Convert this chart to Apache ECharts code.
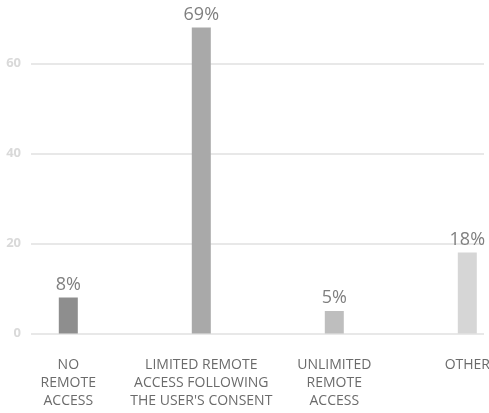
<!DOCTYPE html>
<html><head><meta charset="utf-8">
<script src="https://cdn.jsdelivr.net/npm/echarts@6/dist/echarts.min.js"></script>
<style>html,body{margin:0;padding:0;background:#fff}#c{width:489px;height:413px}</style>
</head><body><div id="c"></div>
<script>
const categories = ["NO\nREMOTE\nACCESS", "LIMITED REMOTE\nACCESS FOLLOWING\nTHE USER'S CONSENT", "UNLIMITED\nREMOTE\nACCESS", "OTHER"];
const values = [8, 68, 5, 18];
const valueLabels = ["8%", "69%", "5%", "18%"];
const barColors = ["#8e8e8e", "#a9a9a9", "#bebebe", "#d6d6d6"];
const yTicks = [0, 20, 40, 60, 80];

const chart = echarts.init(document.getElementById('c'));
const font = "'Open Sans', 'Noto Sans', sans-serif";
chart.setOption({
  animation: false,
  grid: [
    {left: 31, right: 5, top: -26.5, bottom: 79.5, outerBoundsMode: 'none', containLabel: false},
    {left: 68.3, right: 21.7, top: -26.5, bottom: 79.5, outerBoundsMode: 'none', containLabel: false}
  ],
  xAxis: [
    {gridIndex: 0, type: 'category', data: categories, show: false},
    {gridIndex: 1, type: 'category', data: categories, boundaryGap: false,
     axisLine: {show: false}, axisTick: {show: false},
     axisLabel: {interval: 0, color: '#6b6b6b', fontFamily: font, fontSize: 14, lineHeight: 18.3, margin: 22}}
  ],
  yAxis: [
    {gridIndex: 0, type: 'value', min: yTicks[0], max: yTicks[yTicks.length-1], interval: 20,
     axisLine: {show: false}, axisTick: {show: false},
     axisLabel: {color: '#d9d9d9', fontFamily: font, fontSize: 13, fontWeight: 'bold', margin: 10},
     splitLine: {lineStyle: {color: '#e8e8e8', width: 2}}},
    {gridIndex: 1, type: 'value', min: yTicks[0], max: yTicks[yTicks.length-1], interval: 20, show: false}
  ],
  series: [{
    type: 'bar', xAxisIndex: 1, yAxisIndex: 1, barWidth: 19,
    data: values.map((v, i) => ({value: v, itemStyle: {color: barColors[i]}})),
    label: {show: true, position: 'top', distance: 4, color: '#7f7f7f', fontFamily: font, fontSize: 18,
      formatter: p => valueLabels[p.dataIndex]}
  }]
});
</script></body></html>
